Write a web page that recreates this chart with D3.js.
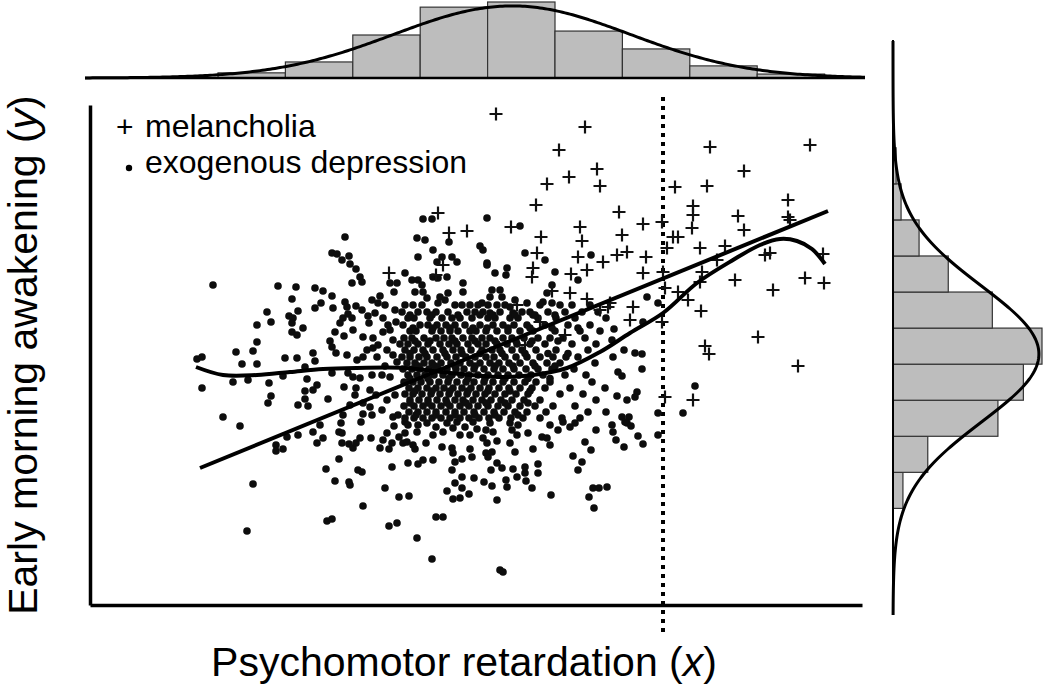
<!DOCTYPE html>
<html><head><meta charset="utf-8">
<script src="https://cdn.jsdelivr.net/npm/d3@7"></script>
<style>body{margin:0;background:#fff}svg{display:block}</style>
</head><body>
<svg id="chart" width="1050" height="691"></svg>
<script>
// ---------- data (x: psychomotor retardation, y: early morning awakening) ----------
const melancholia = [
[49.6,58.6],[58.5,57.3],[55.9,55.0],[59.7,53.1],[56.9,52.3],[54.7,51.6],[60.0,51.4],[53.6,49.5],[43.8,48.7],[44.9,46.7],[46.7,46.9],[51.1,47.3],[54.1,46.3],[58.0,47.3],[58.2,45.9],[53.7,44.7],[57.8,44.3],[60.3,43.8],
[71.0,55.3],[81.0,55.5],[74.4,52.9],[67.5,51.3],[70.7,51.4],[61.9,48.8],[69.3,49.4],[69.3,48.5],[73.8,48.4],[78.8,50.0],[78.8,48.3],[79.0,48.0],[64.3,47.6],[66.2,47.8],[69.2,47.2],[74.4,47.0],[62.2,46.5],[67.3,46.3],[67.8,46.3],[66.7,45.2],[70.0,45.2],[72.5,45.4],[62.7,44.8],[61.7,44.5],[64.6,44.3],[76.5,44.5],[77.0,44.7],[82.3,44.6],[71.7,44.0],
[64.3,42.7],[66.3,42.8],[70.2,42.8],[70.0,41.8],[73.5,42.0],[77.3,41.0],[80.5,42.2],[82.4,41.7],[66.5,41.2],[67.8,40.8],[68.8,40.0],[70.1,38.9],[63.3,39.3],[63.0,38.0],[66.2,37.8],[75.8,36.3],[70.5,35.4],[70.9,34.6],[79.8,33.4],[66.5,30.3],[69.3,30.0],[61.0,39.7],
[38.9,42.7],[53.3,43.2],[53.2,42.3],[57.1,42.6],[58.7,43.0],[55.2,40.9],[57.0,40.7],[58.7,40.1],[51.7,39.5],[54.0,37.8],[60.0,39.0],[60.8,39.3],[44.3,43.5],[43.6,42.5],[52.5,35.5],[56.5,36.5]
];

const exogenousScattered = [
[34.5,46.3],[33.2,44.7],[33.7,44.6],[34.2,44.0],[34.9,44.4],[35.0,43.6],
[42.3,48.1],[43.2,48.1],[48.7,48.2],[52.0,47.4],[41.7,46.2],[42.5,46.0],[44.9,45.8],[48.0,45.4],[48.3,45.0],[43.3,45.0],[41.8,44.3],[44.2,44.3],[45.2,44.3],[45.7,43.8],[52.5,44.7],[54.5,44.0],[59.1,44.5],[48.7,43.7],[43.7,43.8],
[64.7,40.3],[65.8,39.7],[64.3,37.8],[61.4,37.1],[61.2,36.0],[62.4,35.0],[63.5,34.7],[64.2,34.6],[61.3,34.3],[64.2,33.1],[61.8,32.8],[62.2,32.4],[69.5,31.4],[63.7,30.8],[61.7,30.4],[62.7,30.0],[63.5,30.3],[65.8,28.7],[68.3,28.7],[62.2,28.3],[62.9,28.3],[62.7,27.7],
[61.2,27.5],[61.3,26.8],[62.5,27.8],[63.1,27.4],[61.6,26.0],[62.4,25.3],[63.8,26.4],[64.3,25.6],[65.8,26.5],
[24.0,27.4],[25.3,21.6],[24.7,16.9],[27.6,25.5],[27.6,24.9],[28.3,25.1],[28.7,26.3],[29.8,26.5],[31.3,26.8],[31.7,25.7],[32.3,26.2],[32.0,27.5],[32.6,23.1],[33.5,21.9],[32.7,17.9],[33.2,18.1],[33.9,24.1],[33.9,26.8],[34.2,26.7],[34.2,25.7],[34.1,27.7],[34.9,25.6],[35.3,25.2],[35.6,25.7],[36.0,26.2],[34.9,21.8],[35.0,21.5],[35.8,23.0],[36.2,22.8],[36.3,19.4],[36.1,27.8],[37.1,26.2],[38.0,25.2],[38.3,26.0],[38.7,26.7],[39.2,25.7],[38.9,25.1],[39.2,23.3],[38.5,21.2],[39.9,20.3],[38.9,17.4],[39.7,17.7],[39.4,27.4],[39.9,26.3],[40.3,25.7],[40.5,27.8],
[40.5,26.7],[40.8,27.5],[41.7,26.8],[41.8,27.5],[42.7,27.7],[43.3,26.5],[43.6,27.3],[44.3,26.8],[44.7,27.7],[45.3,27.2],[45.7,27.8],[46.0,26.5],[46.5,27.3],[47.0,26.5],[47.3,27.8],[47.7,27.1],[48.3,26.2],[48.6,27.0],[49.0,27.7],[49.3,26.8],[48.7,25.7],[49.7,25.9],[51.0,27.7],[51.2,27.0],[51.7,26.5],[51.8,27.5],[52.8,26.7],[54.2,26.3],[54.7,26.2],[55.0,27.5],[55.8,27.0],[56.3,27.8],[57.0,27.3],[57.5,27.7],[59.6,27.0],[58.5,25.8],[59.1,25.0],[55.0,25.5],[53.3,25.1],[40.7,25.8],[41.3,25.5],[41.5,25.1],[42.6,25.7],[44.2,25.3],[45.2,25.2],[45.3,24.7],[47.0,25.1],[48.6,24.7],[48.8,24.3],[49.2,24.8],[51.5,24.8],[51.0,25.7],
[40.8,23.7],[41.8,23.6],[42.3,24.0],[43.3,24.0],[45.2,23.0],[45.5,23.8],[46.2,24.1],[47.2,24.3],[45.5,21.7],[46.2,22.3],[47.4,22.2],[46.2,21.2],[44.7,20.9],[45.3,20.1],[46.0,20.2],[46.9,20.6],[48.4,21.8],[49.2,21.4],[49.1,23.0],[49.7,23.7],[50.2,23.2],[49.7,20.0],[50.6,22.0],[50.7,21.3],[51.3,23.1],[51.7,22.3],[52.5,23.3],[52.5,22.7],[52.6,21.9],[53.2,21.2],[53.8,23.6],[53.8,22.7],[55.1,20.5],[57.3,24.4],[58.2,23.8],[57.8,23.0],[59.3,21.2],[59.9,21.2],[60.7,21.3],[58.9,20.3],[59.4,19.2],[40.9,20.4],[43.6,18.3],[44.3,18.3],[41.7,16.2],[43.2,14.1],[50.0,13.0],[50.3,12.8],
[21.3,41.5],[27.8,41.4],[29.6,41.3],[31.5,41.2],[32.3,40.9],[33.2,40.4],[35.6,43.1],[36.0,42.3],[36.2,41.8],[35.2,41.7],[39.0,41.7],[39.7,41.7],[39.4,40.8],[29.2,40.1],[32.1,39.7],[31.5,39.2],[29.8,38.9],[26.7,38.8],[27.1,37.8],[28.9,38.4],[29.3,38.2],[29.2,37.7],[33.3,39.2],[34.5,39.8],[34.7,39.3],[35.6,39.4],[36.2,39.0],[34.3,38.2],[34.8,38.6],[35.2,38.2],[34.0,37.7],[36.9,37.7],[38.0,40.4],[37.8,39.7],[37.5,38.7],[38.3,38.2],[39.6,37.8],[25.7,37.5],[30.3,37.2],[29.2,36.8],[29.7,36.5],[33.5,36.8],[34.4,36.4],[35.3,37.0],[36.3,36.3],[37.3,36.2],[38.3,36.8],[39.0,37.0],[39.3,36.0],[25.7,35.8],[33.0,35.9],[33.2,35.3],[33.6,34.7],[34.7,34.5],[35.7,34.0],[36.3,34.3],[36.7,35.0],[37.3,35.2],[37.7,34.3],[38.7,35.0],[39.3,34.5],
[19.7,34.1],[20.2,34.3],[23.6,34.8],[25.3,34.9],[24.2,33.6],[25.7,33.6],[28.5,34.2],[29.7,34.2],[31.3,34.7],[31.5,33.9],[30.5,33.3],[33.2,32.7],[34.8,32.7],[35.3,32.3],[36.0,32.2],[37.2,32.5],[38.2,32.5],[39.0,32.3],[23.3,31.8],[24.8,32.0],[26.9,31.7],[28.3,32.4],[30.7,32.1],[31.7,31.5],[30.5,30.9],[31.3,31.0],[34.4,31.3],[37.0,31.0],[20.2,31.2],[27.1,30.4],[32.8,30.1],[30.5,30.1],[26.8,29.7],[29.8,29.5],[30.8,29.4],[36.3,29.7],[37.0,29.3],[22.3,28.3],[34.3,28.5],[36.3,28.6],[37.2,28.5],[39.3,28.3],
[40.5,42.7],[41.2,42.0],[41.8,42.0],[42.2,41.5],[41.5,40.8],[42.3,40.8],[42.7,40.2],[43.3,42.3],[43.8,42.2],[44.7,42.3],[44.8,40.7],[44.0,40.3],[43.8,39.7],[44.5,40.0],[46.3,41.7],[46.3,40.8],[48.7,43.5],[49.5,42.7],[50.7,43.2],[50.6,42.5],[49.2,41.0],[49.0,40.3],[50.0,41.0],[50.2,40.3],[48.2,39.7],[48.8,39.5],[49.0,38.7],[51.0,39.3],[51.5,40.0],[51.3,38.7],[52.7,39.7],[53.3,38.5],[55.5,42.8],[55.2,41.5],[54.7,40.7],[54.3,39.8],[55.2,39.7],[57.8,42.0],
[37.2,40.0],[38.5,39.5],[39.5,39.0],[36.8,38.4],[38.8,37.5],[37.8,35.5],[39.7,33.8],[38.5,33.4],[37.6,30.5],[38.7,30.0],[39.5,30.5],[38.2,29.0],[35.5,30.5],[35.0,29.5],[35.6,31.2],[39.8,28.5]
];

// dense core, read row by row: [y, [x values]]
const exogenousCoreRows = [
[39.5,[40.5,41.3,42.2,45.5,46.2,47.0,47.8,49.7,50.5,54.0,56.0,57.2,59.0]],
[38.8,[40.2,41.8,42.7,43.6,44.8,46.7,47.5,48.3,50.0,52.2,53.0,54.8,56.5,58.2,59.8]],
[38.2,[40.8,41.4,43.0,44.2,45.2,46.0,47.2,48.8,49.5,51.0,51.8,53.8,55.6,57.5,60.6]],
[37.5,[40.3,42.0,42.8,43.7,44.6,45.5,46.5,48.0,49.3,50.3,51.4,52.7,54.5,56.8,59.0]],
[36.9,[41.0,41.6,43.2,44.1,45.0,45.8,47.0,47.6,48.6,49.7,50.8,52.0,53.3,55.5,58.0,60.0]],
[36.2,[40.4,41.2,42.4,43.6,44.4,45.2,46.3,47.2,48.2,49.0,50.3,51.2,52.4,53.8,55.0,56.3,58.5]],
[35.6,[40.0,40.8,41.8,42.8,44.0,44.9,45.7,46.8,47.8,48.6,49.7,50.7,51.7,53.0,54.5,57.2,59.6]],
[35.0,[40.5,41.4,42.3,43.3,44.3,45.3,46.1,47.1,48.2,49.2,50.0,51.2,52.2,53.6,55.6,58.8]],
[34.3,[40.2,41.0,41.9,42.7,43.7,44.7,45.6,46.6,47.5,48.6,49.4,50.5,51.6,52.7,54.0,55.3,56.6,57.8]],
[33.7,[40.7,41.5,42.4,43.2,44.1,45.1,46.0,47.0,48.0,49.0,49.9,50.9,52.0,53.3,54.7,56.0,59.5]],
[33.1,[40.3,41.2,42.0,42.9,43.8,44.7,45.6,46.4,47.4,48.4,49.4,50.3,51.4,52.6,53.8,55.2,57.4]],
[32.5,[40.8,41.7,42.5,43.4,44.3,45.2,46.1,46.9,47.8,48.8,49.8,50.8,51.9,53.1,54.3,56.5,58.6]],
[31.8,[40.4,41.3,42.1,43.0,43.9,44.8,45.7,46.6,47.4,48.4,49.3,50.3,51.4,52.5,53.6,55.0,59.2]],
[31.2,[40.9,41.8,42.7,43.6,44.4,45.3,46.2,47.1,48.0,48.9,49.9,50.9,52.0,53.2,54.5,57.0,60.5]],
[30.6,[40.5,41.3,42.2,43.1,44.0,44.9,45.8,46.7,47.6,48.5,49.5,50.5,51.6,52.8,56.0,58.3]],
[30.0,[41.0,41.9,42.8,43.7,44.6,45.5,46.3,47.3,48.2,49.1,50.1,51.2,52.4,54.0,59.6]],
[29.4,[40.4,41.4,42.3,43.2,44.1,45.0,46.0,46.9,47.8,48.8,49.8,50.8,52.0,53.5,55.3,57.5]],
[28.8,[40.9,41.8,42.7,43.6,44.6,45.5,46.4,47.4,48.4,49.4,50.4,51.5,52.7,54.6,58.8,60.6]],
[28.2,[40.5,41.4,42.3,43.2,44.1,45.0,46.0,46.9,47.9,48.9,49.9,51.1,52.3,54.0,56.2,58.0]],
[38.5,[41.0,43.2,45.8,48.0,49.3,51.5,53.5,55.5]],
[37.2,[41.3,43.3,45.0,47.3,48.7,50.8,53.0,55.2,57.8]],
[35.9,[41.5,43.0,45.5,47.5,49.5,51.6,53.2,55.8]],
[34.65,[41.0,42.5,44.5,46.2,48.0,50.2,52.5,54.8,56.8]],
[33.4,[41.8,43.5,45.5,47.5,49.5,51.3,53.5,55.5]],
[32.15,[41.0,42.8,44.9,46.8,48.5,50.5,52.8,55.0]],
[30.9,[41.5,43.2,45.0,46.8,48.8,51.0,53.0]],
[29.7,[41.0,42.8,44.7,46.6,48.6,50.5,52.8]],
[28.5,[41.6,43.6,45.5,47.5,49.5,51.8]]
];

const regressionLine = [[20.0,23.2],[82.8,48.9]];
const loessCurve = [[19.6,33.3],[22.3,32.5],[25.7,32.5],[29.0,32.8],[32.3,33.1],[35.7,33.2],[40.5,33.2],[45.0,32.7],[50.0,32.3],[53.3,32.5],[56.7,33.2],[60.0,34.8],[63.0,36.7],[66.3,38.7],[69.7,41.7],[73.3,44.0],[76.0,45.5],[78.0,46.1],[79.7,45.9],[81.2,45.1],[82.5,43.6]];

// marginal histograms (percent of cases per bin)
const xHistStart = 21.8, xHistBin = 6.74;
const xHistFreq = [1.7,5.3,14.2,23.4,25.1,15.5,9.6,4.0,1.3];
const yHistStart = 19.16, yHistBin = 3.606;
const yHistFreq = [1.6,5.6,16.9,21.0,24.0,16.0,8.9,4.2,1.3,0.5];
const xNormMean = 51.2, xNormSd = 11.8, xNormPeak = 23.8;
const yNormMean = 34.6, yNormSd = 6.8, yNormPeak = 23.5;
const cutoffX = 66.3;
const cutoffYRange = [6.3, 60.3];
const legendLabels = ["melancholia", "exogenous depression"];

// ---------- drawing ----------
const svg = d3.select("#chart");
const FONT = "'Liberation Sans', Arial, Helvetica, sans-serif";
const x = d3.scaleLinear().domain([9, 86.2]).range([90, 862]);
const y = d3.scaleLinear().domain([9.5, 59.5]).range([605, 105]);
const hTop = d3.scaleLinear().domain([0, 25.1]).range([78, 2]);
const hRight = d3.scaleLinear().domain([0, 24]).range([893, 1042]);

const exogenous = exogenousScattered.concat(exogenousCoreRows.flatMap(([yy, xs]) => xs.map(xx => [xx, yy])));

// axes (no ticks)
const gx = svg.append("g").attr("transform", "translate(0,605)")
  .call(d3.axisBottom(x).tickValues([]).tickSizeOuter(0));
const gy = svg.append("g").attr("transform", "translate(90,0)")
  .call(d3.axisLeft(y).tickValues([]).tickSizeOuter(0));
[gx, gy].forEach(g => g.select(".domain").attr("stroke", "#000").attr("stroke-width", 3.5));

// cutoff dotted line
svg.append("line")
  .attr("x1", x(cutoffX)).attr("x2", x(cutoffX))
  .attr("y1", y(cutoffYRange[1])).attr("y2", y(cutoffYRange[0]))
  .attr("stroke", "#000").attr("stroke-width", 4).attr("stroke-dasharray", "4,5");

// points
svg.append("g").selectAll("circle").data(exogenous).join("circle")
  .attr("cx", d => x(d[0])).attr("cy", d => y(d[1])).attr("r", 3.8).attr("fill", "#0d0d0d");
svg.append("g").selectAll("path").data(melancholia).join("path")
  .attr("transform", d => `translate(${x(d[0])},${y(d[1])})`)
  .attr("d", "M-6.5,0H6.5M0,-6.5V6.5").attr("stroke", "#111").attr("stroke-width", 2.2).attr("fill", "none");

// fits
svg.append("path").datum(regressionLine)
  .attr("d", d3.line().x(d => x(d[0])).y(d => y(d[1])))
  .attr("stroke", "#000").attr("stroke-width", 4).attr("fill", "none");
svg.append("path").datum(loessCurve)
  .attr("d", d3.line().curve(d3.curveCatmullRom).x(d => x(d[0])).y(d => y(d[1])))
  .attr("stroke", "#000").attr("stroke-width", 4).attr("fill", "none");

// top histogram
svg.append("g").selectAll("rect").data(xHistFreq).join("rect")
  .attr("x", (d, i) => x(xHistStart + i * xHistBin))
  .attr("width", x(xHistStart + xHistBin) - x(xHistStart))
  .attr("y", d => hTop(d)).attr("height", d => hTop(0) - hTop(d))
  .attr("fill", "#bdbdbd").attr("stroke", "#333").attr("stroke-width", 1.2);
svg.append("line").attr("x1", x(8.5)).attr("x2", x(86.5)).attr("y1", hTop(0)).attr("y2", hTop(0))
  .attr("stroke", "#000").attr("stroke-width", 2.5);
const xs = d3.range(8.5, 86.51, 0.25);
svg.append("path").datum(xs)
  .attr("d", d3.line().x(d => x(d)).y(d => hTop(xNormPeak * Math.exp(-0.5 * ((d - xNormMean) / xNormSd) ** 2))))
  .attr("stroke", "#000").attr("stroke-width", 3).attr("fill", "none");

// right histogram
svg.append("g").selectAll("rect").data(yHistFreq).join("rect")
  .attr("y", (d, i) => y(yHistStart + (i + 1) * yHistBin))
  .attr("height", y(yHistStart) - y(yHistStart + yHistBin))
  .attr("x", hRight(0)).attr("width", d => hRight(d) - hRight(0))
  .attr("fill", "#bdbdbd").attr("stroke", "#333").attr("stroke-width", 1.2);
svg.append("line").attr("x1", hRight(0)).attr("x2", hRight(0)).attr("y1", y(66)).attr("y2", y(8.5))
  .attr("stroke", "#000").attr("stroke-width", 2);
const ys = d3.range(8.5, 66.01, 0.2);
svg.append("path").datum(ys)
  .attr("d", d3.line().y(d => y(d)).x(d => hRight(yNormPeak * Math.exp(-0.5 * ((d - yNormMean) / yNormSd) ** 2))))
  .attr("stroke", "#000").attr("stroke-width", 3).attr("fill", "none");

// legend
const lg = svg.append("g").attr("font-family", FONT).attr("font-size", 32).attr("fill", "#000");
lg.append("text").attr("x", 116).attr("y", 137).attr("font-size", 30).text("+");
lg.append("text").attr("x", 145).attr("y", 137).text(legendLabels[0]);
lg.append("circle").attr("cx", 129).attr("cy", 168).attr("r", 3.2).attr("fill", "#000");
lg.append("text").attr("x", 145).attr("y", 173).text(legendLabels[1]);

// axis titles
const xt = svg.append("text").attr("x", 464).attr("y", 676).attr("text-anchor", "middle")
  .attr("font-family", FONT).attr("font-size", 41);
xt.append("tspan").text("Psychomotor retardation (");
xt.append("tspan").attr("font-style", "italic").text("x");
xt.append("tspan").text(")");
const yt = svg.append("text").attr("transform", "translate(37,355) rotate(-90)").attr("text-anchor", "middle")
  .attr("font-family", FONT).attr("font-size", 41);
yt.append("tspan").text("Early morning awakening (");
yt.append("tspan").attr("font-style", "italic").text("y");
yt.append("tspan").text(")");
</script>
</body></html>
